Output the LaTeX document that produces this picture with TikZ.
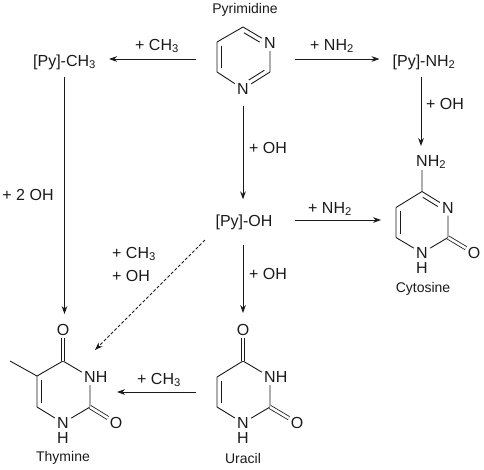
\documentclass[tikz,border=0pt]{standalone}
\usepackage{fontspec}
\setmainfont{Liberation Sans}
\usetikzlibrary{arrows.meta,calc}
\definecolor{ink}{HTML}{1A1A1A}
\tikzset{
  >={Stealth[length=2.8mm,width=2mm]},
  txt/.style={font=\fontsize{16}{18}\selectfont,text=ink,inner sep=0pt},
  molname/.style={txt,font=\fontsize{14}{16}\selectfont},
  atom/.style={txt,inner sep=1pt,minimum size=16pt},
  spec/.style={txt,inner xsep=13pt,inner ysep=15pt},
  bond/.style={draw=ink,line width=0.9pt},
  cobond/.style={draw=ink,line width=0.8pt,double=white,double distance=2.6pt},
  arr/.style={->,draw=ink,line width=0.9pt},
  darr/.style={arr,densely dashed},
}
\newcommand{\inbond}[4]{\draw[bond] ($(#1)!#3!(#2)!4.5pt!90:(#2)$) -- ($(#2)!#4!(#1)!4.5pt!-90:(#1)$);}
\begin{document}
\begin{tikzpicture}[x=1pt,y=-1pt]
\useasboundingbox (0,0) rectangle (484,469);
% pyrimidine
\node[molname] (pyrname) at (245,9.5) {Pyrimidine};
\coordinate (pa) at (243,27);
\node[atom] (pb) at (270,43) {N};
\coordinate (pc) at (270,72);
\node[atom] (pd) at (243,89) {N};
\coordinate (pe) at (217,72);
\coordinate (pf) at (217,42);
\draw[bond] (pa)--(pb) (pb)--(pc) (pc)--(pd) (pd)--(pe) (pe)--(pf) (pf)--(pa);
\inbond{pb}{pa}{.3}{.12} \inbond{pf}{pe}{.12}{.12} \inbond{pd}{pc}{.3}{.12}
% cytosine
\node[atom] (cn) at (422,162) {N\rlap{H\textsubscript{2}}};
\coordinate (ca) at (422,191.5);
\node[atom] (cb) at (448,207.5) {N};
\coordinate (cc) at (448,237.5);
\node[atom] (cd) at (422,253) {N};
\node[txt] (cdh) at (422,267.5) {H};
\coordinate (ce) at (396,237.5);
\coordinate (cf) at (396,207.5);
\node[atom] (co) at (474,253) {O};
\draw[bond] (cn)--(ca) (ca)--(cb) (cb)--(cc) (cc)--(cd) (cd)--(ce) (ce)--(cf) (cf)--(ca);
\draw[cobond] (cc)--(co);
\inbond{cb}{ca}{.3}{.12} \inbond{cf}{ce}{.12}{.12}
\node[molname] (cname) at (423,289) {Cytosine};
% thymine
\node[atom] (to) at (63,330) {O};
\coordinate (ta) at (63,361);
\node[atom] (tb) at (90,377) {N\rlap{H}};
\coordinate (tc) at (90,407);
\node[atom] (td) at (63,423) {N};
\node[txt] (tdh) at (63,437.5) {H};
\coordinate (te) at (37,407);
\coordinate (tf) at (37,376);
\coordinate (tm) at (10,361);
\node[atom] (tp) at (116,423) {O};
\draw[bond] (ta)--(tb) (tb)--(tc) (tc)--(td) (td)--(te) (te)--(tf) (tf)--(ta) (tf)--(tm);
\draw[cobond] (ta)--(to);
\draw[cobond] (tc)--(tp);
\inbond{tf}{te}{.12}{.12}
\node[molname] (tname) at (63,458) {Thymine};
% uracil
\node[atom] (uo) at (243,330) {O};
\coordinate (ua) at (243,361);
\node[atom] (ub) at (270,377) {N\rlap{H}};
\coordinate (uc) at (270,407);
\node[atom] (ud) at (243,423) {N};
\node[txt] (udh) at (243,437.5) {H};
\coordinate (ue) at (217,407);
\coordinate (uf) at (217,377);
\node[atom] (up) at (297,423) {O};
\draw[bond] (ua)--(ub) (ub)--(uc) (uc)--(ud) (ud)--(ue) (ue)--(uf) (uf)--(ua);
\draw[cobond] (ua)--(uo);
\draw[cobond] (uc)--(up);
\inbond{uf}{ue}{.12}{.12}
\node[molname] (uname) at (243,458) {Uracil};
% intermediates
\node[spec,inner ysep=7pt] (pyme) at (64.5,62) {[Py]-CH\textsubscript{3}};
\node[spec,inner ysep=7pt] (pyam) at (424,62) {[Py]-NH\textsubscript{2}};
\node[spec] (pyoh) at (244,222) {[Py]-OH};
% arrow ends at the molecules
\coordinate (pyrW) at (196,59);
\coordinate (pyrE) at (295,59);
\coordinate (pyrS) at (243,106);
\coordinate (cytN) at (421,146);
\coordinate (cytW) at (381,220);
\coordinate (ohE) at (295,220);
\coordinate (thyN) at (64,314);
\coordinate (thyE) at (117,392);
\coordinate (thyD) at (95,350);
\coordinate (uraN) at (243,313);
\coordinate (uraW) at (196,392);
\coordinate (ohD) at (205,240);
\draw[arr] (pyrW) -- (pyrW -| pyme.east);
\draw[arr] (pyrE) -- (pyrE -| pyam.west);
\draw[arr] (pyrS) -- (pyrS |- pyoh.north);
\draw[arr] (pyam.south -| cytN) -- (cytN);
\draw[arr] (pyme.south) -- (thyN -| pyme.south);
\draw[arr] (ohE) -- (cytW);
\draw[arr] (uraN |- pyoh.south) -- (uraN);
\draw[arr] (uraW) -- (thyE);
\draw[darr] (ohD) -- (thyD);
% reagents
\node[txt] (lcha) at (157,46) {+ CH\textsubscript{3}};
\node[txt] (lnha) at (332,46) {+ NH\textsubscript{2}};
\node[txt] (loha) at (268,148) {+ OH};
\node[txt] (lohb) at (445,104) {+ OH};
\node[txt] (lohc) at (28,195) {+ 2 OH};
\node[txt] (lnhb) at (330,209) {+ NH\textsubscript{2}};
\node[txt] (lohd) at (268,274) {+ OH};
\node[txt,anchor=west] (lchb) at (112,254) {+ CH\textsubscript{3}};
\node[txt,anchor=west] (lohe) at (112,276) {+ OH};
\node[txt] (lchc) at (159,380) {+ CH\textsubscript{3}};
\end{tikzpicture}
\end{document}
